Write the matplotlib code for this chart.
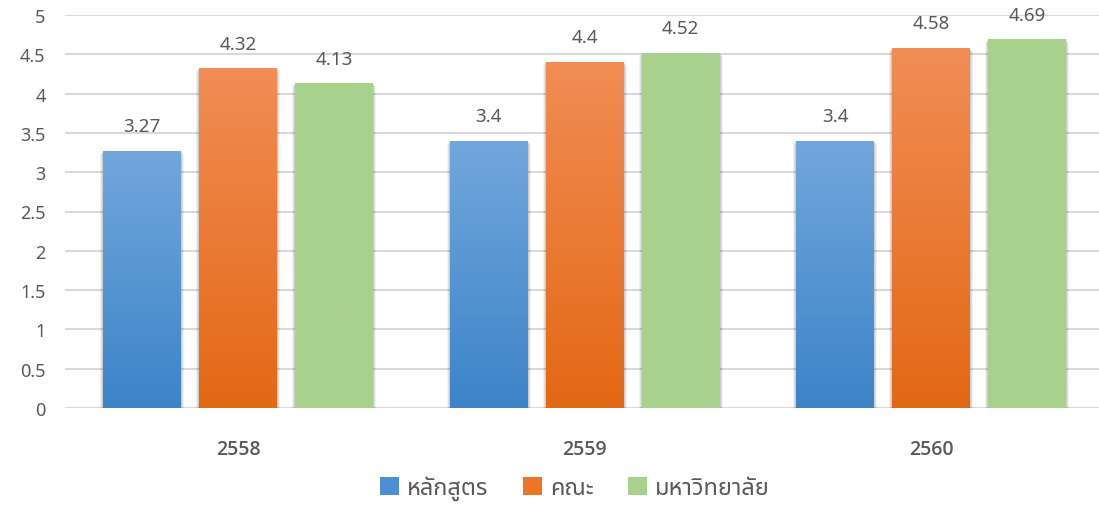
import matplotlib
matplotlib.use("Agg")
import matplotlib.pyplot as plt
import numpy as np
from matplotlib.colors import LinearSegmentedColormap
from matplotlib.patches import Patch

years = ["2558", "2559", "2560"]
series = ["หลักสูตร", "คณะ", "มหาวิทยาลัย"]
v_course = [3.27, 3.4, 3.4]
v_faculty = [4.32, 4.4, 4.58]
v_univ = [4.13, 4.52, 4.69]
label_course = ["3.27", "3.4", "3.4"]
label_faculty = ["4.32", "4.4", "4.58"]
label_univ = ["4.13", "4.52", "4.69"]
yticks = [0, 0.5, 1, 1.5, 2, 2.5, 3, 3.5, 4, 4.5, 5]
ytick_labels = ["0", "0.5", "1", "1.5", "2", "2.5", "3", "3.5", "4", "4.5", "5"]

plt.rcParams["font.family"] = ["Noto Sans Thai", "Noto Sans", "DejaVu Sans"]
TXT = "#595959"

W, H = 1099, 506
fig = plt.figure(figsize=(W / 100, H / 100), dpi=100)
fig.patch.set_facecolor("white")
ax = fig.add_axes([65 / W, 97 / H, (1099 - 65) / W, (409 - 16) / H])
ax.set_facecolor("none")
unit_px = 346.5

for s in ax.spines.values():
    s.set_visible(False)
ax.set_yticks(yticks)
ax.set_yticklabels(ytick_labels)
ax.tick_params(axis="y", length=0, pad=14, labelsize=13, labelcolor=TXT)
ax.tick_params(axis="x", length=0, pad=22, labelcolor=TXT)
ax.grid(axis="y", color="#D9D9D9", linewidth=1.5)
ax.set_axisbelow(True)

x = np.arange(len(years))
bw = 78 / unit_px
step = 96 / unit_px
cols = [("#72A7DC", "#3C84C8"), ("#F18D55", "#E36815"), ("#A9D18E", "#A9D18E")]
allvals = [v_course, v_faculty, v_univ]
alllabels = [label_course, label_faculty, label_univ]
for i, (vals, labs, (ctop, cbot)) in enumerate(zip(allvals, alllabels, cols)):
    xs = x + (i - 1) * step
    for dx, a in [(3, 0.05), (2, 0.07), (1, 0.09)]:
        ax.bar(xs, vals, width=bw + 2 * dx / unit_px, bottom=-dx / 78.6,
               color="black", alpha=a, linewidth=0, zorder=2)
    bars = ax.bar(xs, vals, width=bw, color=cbot, linewidth=0, zorder=3)
    cmap = LinearSegmentedColormap.from_list("g%d" % i, [cbot, ctop])
    grad = np.linspace(0, 1, 256).reshape(-1, 1)
    for b, v, lab in zip(bars, vals, labs):
        x0 = b.get_x()
        im = ax.imshow(grad, cmap=cmap, origin="lower", aspect="auto",
                       extent=[x0, x0 + bw, 0, v], zorder=4, interpolation="bilinear")
        im.set_clip_path(b)
        ax.text(x0 + bw / 2, v + 0.2, lab, ha="center", va="bottom",
                fontsize=13.5, color=TXT, zorder=5)

ax.set_xticks(x)
ax.set_xticklabels(years, fontweight="semibold", family=["Open Sans", "DejaVu Sans"], fontsize=14)
ax.set_xlim(-0.5, -0.5 + (1099 - 65) / unit_px)
ax.set_ylim(0, 5)

proxies = [Patch(facecolor="#4C8FD2"), Patch(facecolor="#EC7526"), Patch(facecolor="#A9D18E")]
fig.legend(proxies, series, loc="center", bbox_to_anchor=(575 / W, 1 - 489 / H), ncol=3,
           frameon=False, fontsize=17, handlelength=0.8, handleheight=0.8,
           handletextpad=0.35, columnspacing=1.45, labelcolor=TXT)

fig.savefig("out.png", dpi=100, facecolor="white")
